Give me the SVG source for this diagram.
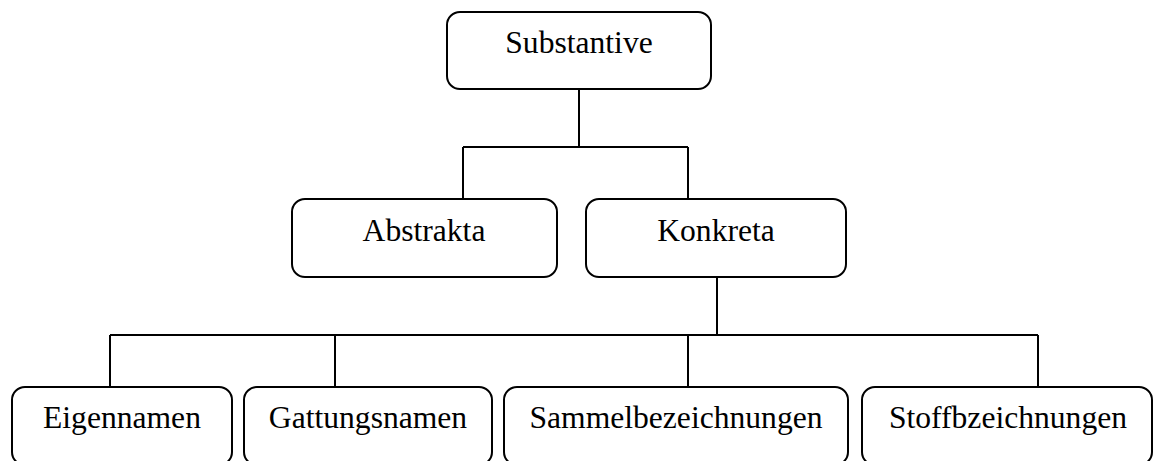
<svg xmlns="http://www.w3.org/2000/svg" width="1154" height="461" viewBox="0 0 1154 461">
<style>
.box{fill:#fff;stroke:#000;stroke-width:2}
.lbl{font-family:"Liberation Serif","Times New Roman",serif;font-size:31.6px;fill:#000;text-anchor:middle}
.con{fill:none;stroke:#000;stroke-width:2}
</style>
<rect width="1154" height="461" fill="#fff"/>
<g id="connectors" class="con">
<path d="M579 89V147M463 147H688M463 147V199M688 147V199"/>
<path d="M717 277V335M110 335H1038M110 335V387M335 335V387M688 335V387M1038 335V387"/>
</g>
<g id="n-substantive"><rect class="box" x="447" y="12" width="264" height="77" rx="13"/><text class="lbl" x="579" y="53">Substantive</text></g>
<g id="n-abstrakta"><rect class="box" x="292" y="199" width="265" height="78" rx="13"/><text class="lbl" x="424" y="241">Abstrakta</text></g>
<g id="n-konkreta"><rect class="box" x="586" y="199" width="260" height="78" rx="13"/><text class="lbl" x="716" y="241">Konkreta</text></g>
<g id="n-eigennamen"><rect class="box" x="12" y="387" width="220" height="78" rx="13"/><text class="lbl" x="122" y="428">Eigennamen</text></g>
<g id="n-gattungsnamen"><rect class="box" x="244" y="387" width="248" height="78" rx="13"/><text class="lbl" x="368" y="428">Gattungsnamen</text></g>
<g id="n-sammel"><rect class="box" x="504" y="387" width="344" height="78" rx="13"/><text class="lbl" x="676" y="428">Sammelbezeichnungen</text></g>
<g id="n-stoff"><rect class="box" x="862" y="387" width="290" height="78" rx="13"/><text class="lbl" x="1008" y="428">Stoffbzeichnungen</text></g>
</svg>
